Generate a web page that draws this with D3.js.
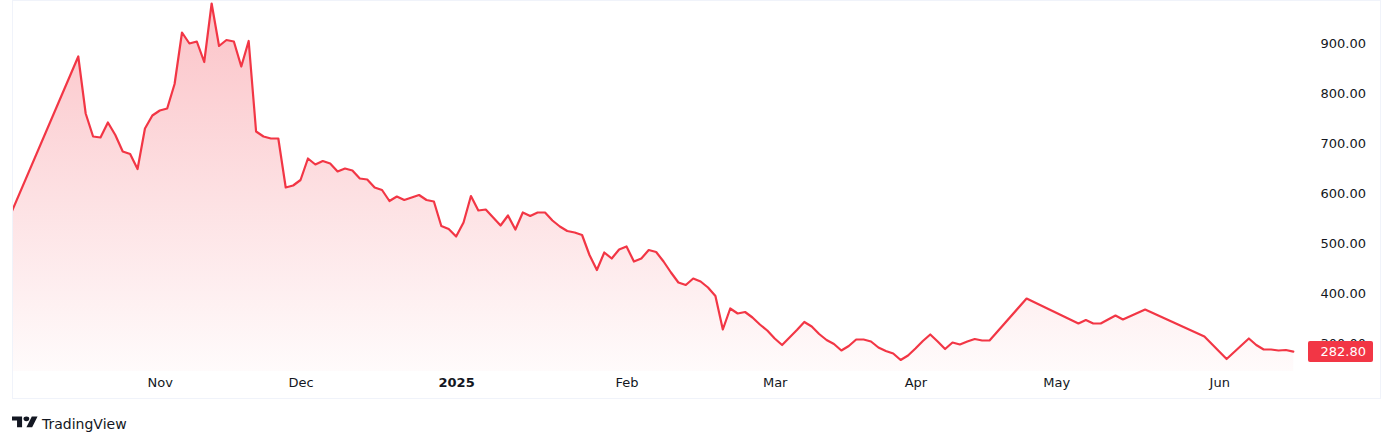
<!DOCTYPE html>
<html>
<head>
<meta charset="utf-8">
<script src="https://cdn.jsdelivr.net/npm/d3@7"></script>
<style>
  html, body { margin: 0; padding: 0; background: #ffffff; }
  svg { display: block; }
  text { font-family: "DejaVu Sans", sans-serif; }
</style>
</head>
<body>
<svg id="chart" width="1394" height="444"></svg>
<script>
// ---- data ----
const barIndex = [0, 9, 10, 11, 12, 13, 14, 15, 16, 17, 18, 19, 20, 21, 22, 23, 24, 25, 26, 27, 28, 29, 30,
  31, 32, 33, 34, 35, 36, 37, 38, 39, 40, 41, 42, 43, 44, 45, 46, 47, 48, 49, 50, 51, 52, 53, 54, 55, 56, 57,
  58, 59, 60, 61, 62, 63, 64, 65, 66, 67, 68, 69, 70, 71, 72, 73, 74, 75, 76, 77, 78, 79, 80, 81, 82, 83, 84,
  85, 86, 87, 88, 89, 90, 91, 92, 93, 94, 95, 96, 97, 98, 99, 100, 101, 102, 103, 104, 105, 106, 107, 108,
  109, 110, 111, 112, 113, 114, 115, 116, 117, 118, 119, 120, 121, 122, 123, 124, 125, 126, 127, 128, 129,
  130, 131, 132, 137, 144, 145, 146, 147, 148, 149, 150, 153, 161, 164, 167, 168, 169, 170, 171, 172, 173];
const closeValues = [562, 873, 759, 713, 711, 741, 716, 683, 678, 648, 729, 755, 765, 769, 818, 921, 899, 903, 862, 979, 894, 906, 903,
  853, 904, 723, 713, 709, 709, 611, 615, 626, 669, 657, 664, 659, 643, 649, 645, 629, 627, 611, 606, 584, 593, 586, 591, 596, 586, 583,
  534, 528, 513, 541, 594, 565, 567, 551, 535, 555, 527, 561, 554, 561, 561, 545, 533, 524, 521, 516, 476, 446, 481, 469, 487, 493, 463,
  469, 486, 482, 463, 441, 421, 416, 429, 423, 411, 394, 327, 369, 359, 362, 351, 337, 325, 309, 296, 311, 326, 342, 333,
  318, 306, 298, 285, 294, 307, 307, 303, 291, 284, 279, 266, 275, 289, 304, 317, 303, 288, 301, 297, 303,
  308, 305, 305, 389, 339, 346, 339, 339, 347, 355, 347, 367, 313, 268, 309, 296, 287, 287, 285, 286, 282.8];
const monthLabels = ["Nov", "Dec", "2025", "Feb", "Mar", "Apr", "May", "Jun"];
const monthBars = [20, 39, 60, 83, 103, 122, 141, 163];
const yTickValues = [300, 400, 500, 600, 700, 800, 900];
const lastPrice = 282.80;
const lastBar = 173;

// ---- layout ----
const frame = { left: 12, top: 0, right: 1381, bottom: 399 };
const plot = { left: 12, top: 1, right: 1300, bottom: 371 };
const lineColor = "#F23645";

const svg = d3.select("#chart");

const x = d3.scaleLinear().domain([0, lastBar]).range([11.6, 1293.3]);
const y = d3.scaleLinear().domain([300, 900]).range([343, 43]);

const data = barIndex.map((b, i) => ({ b, v: closeValues[i] }));

// defs
const defs = svg.append("defs");
const grad = defs.append("linearGradient")
  .attr("id", "areaGrad").attr("gradientUnits", "userSpaceOnUse")
  .attr("x1", 0).attr("x2", 0).attr("y1", plot.top).attr("y2", plot.bottom);
grad.append("stop").attr("offset", 0).attr("stop-color", lineColor).attr("stop-opacity", 0.3);
grad.append("stop").attr("offset", 1).attr("stop-color", lineColor).attr("stop-opacity", 0.02);

defs.append("clipPath").attr("id", "plotClip")
  .append("rect")
  .attr("x", plot.left + 1).attr("y", plot.top)
  .attr("width", plot.right - plot.left - 1).attr("height", plot.bottom - plot.top);

// frame
svg.append("rect")
  .attr("x", frame.left + 0.5).attr("y", frame.top + 0.5)
  .attr("width", frame.right - frame.left - 1).attr("height", frame.bottom - frame.top - 1)
  .attr("fill", "none").attr("stroke", "#f0f3fa").attr("stroke-width", 1);

const g = svg.append("g").attr("clip-path", "url(#plotClip)");

const area = d3.area()
  .x(d => x(d.b))
  .y0(plot.bottom)
  .y1(d => y(d.v));
const line = d3.line()
  .x(d => x(d.b))
  .y(d => y(d.v));

g.append("path").datum(data).attr("d", area).attr("fill", "url(#areaGrad)");
g.append("path").datum(data).attr("d", line)
  .attr("fill", "none").attr("stroke", lineColor).attr("stroke-width", 2.2)
  .attr("stroke-linejoin", "round").attr("stroke-linecap", "round");

// y axis labels
const yAxis = d3.axisRight(y).tickValues(yTickValues).tickFormat(d3.format(".2f")).tickSize(0);
const yg = svg.append("g").attr("transform", "translate(1366,0)").call(yAxis);
yg.select(".domain").remove();
yg.selectAll("text")
  .attr("x", 0).attr("text-anchor", "end")
  .attr("fill", "#131722").style("font-size", "13px").style("font-family", "'DejaVu Sans', sans-serif");

// last price label (drawn over the partially hidden 300.00 label, as in the original)
const lp = svg.append("g");
lp.append("rect")
  .attr("x", 1308).attr("y", y(lastPrice) - 10.5)
  .attr("width", 65).attr("height", 21).attr("rx", 2)
  .attr("fill", lineColor);
lp.append("text")
  .attr("x", 1366).attr("y", y(lastPrice)).attr("dy", "0.35em")
  .attr("text-anchor", "end").attr("fill", "#ffffff")
  .style("font-size", "13px")
  .text(d3.format(".2f")(lastPrice));

// time axis labels
const xAxis = d3.axisBottom(x).tickValues(monthBars)
  .tickFormat((d, i) => monthLabels[i]).tickSize(0).tickPadding(0);
const xg = svg.append("g").attr("transform", "translate(0,378)").call(xAxis);
xg.select(".domain").remove();
xg.selectAll("text")
  .attr("fill", "#131722").style("font-size", "13px")
  .style("font-family", "'DejaVu Sans', sans-serif")
  .style("font-weight", (d, i) => monthLabels[i] === "2025" ? "bold" : "normal");

// TradingView attribution
const logo = svg.append("g").attr("transform", "translate(12,414) scale(0.72,0.6)").attr("fill", "#131722");
logo.append("path").attr("d", "M14 22H7V11H0V4h14v18zM28 22h-8l7.5-18h8L28 22z");
logo.append("circle").attr("cx", 20).attr("cy", 8).attr("r", 4);
svg.append("text")
  .attr("x", 42).attr("y", 429)
  .attr("fill", "#131722").style("font-size", "14px")
  .text("TradingView");
</script>
</body>
</html>
